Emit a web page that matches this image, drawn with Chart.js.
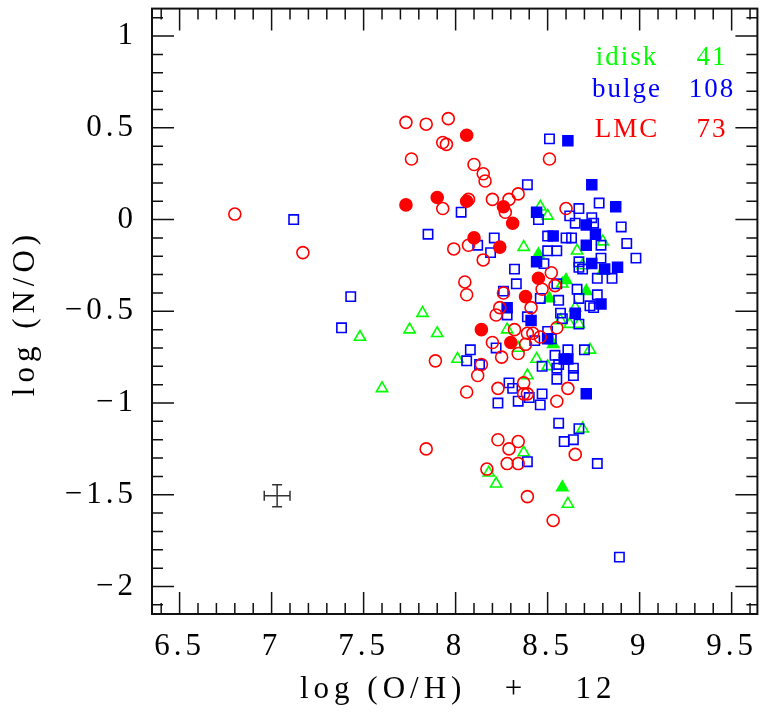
<!DOCTYPE html>
<html>
<head>
<meta charset="utf-8">
<script src="https://cdn.jsdelivr.net/npm/chart.js@4.4.1/dist/chart.umd.min.js"></script>
<style>
  body { margin: 0; background: #fff; }
  canvas { display: block; }
</style>
</head>
<body>
<canvas id="plot" width="766" height="718"></canvas>
<script>
// LMC (red circles)
var lmcOpenX = [6.80, 7.17, 7.73, 7.84, 7.96, 7.93, 7.95, 7.76, 8.10, 8.15, 8.16, 7.93, 8.07, 8.20, 8.27, 8.29, 8.34, 8.51, 8.60,
  7.99, 8.07, 8.15, 8.05, 8.06, 8.26, 8.24, 8.22, 8.52, 8.47, 8.54, 8.32, 8.39, 8.42, 8.46, 8.55, 8.20, 8.38, 8.25, 8.34,
  7.89, 8.14, 8.12, 8.06, 8.23, 8.37, 8.39, 8.37, 8.55, 8.61, 7.84, 8.23, 8.29, 8.34, 8.28, 8.34, 8.17, 8.39, 8.53, 8.65, 8.41];
var lmcOpenY = [0.03, -0.18, 0.53, 0.52, 0.55, 0.42, 0.41, 0.33, 0.30, 0.25, 0.21, 0.06, 0.11, 0.11, 0.04, 0.11, 0.14, 0.33, 0.06,
  -0.16, -0.14, -0.22, -0.34, -0.41, -0.40, -0.48, -0.52, -0.29, -0.38, -0.36, -0.60, -0.62, -0.62, -0.64, -0.59, -0.67, -0.68, -0.75, -0.73,
  -0.77, -0.79, -0.85, -0.94, -0.92, -0.89, -0.95, -0.95, -0.99, -0.92, -1.25, -1.20, -1.25, -1.21, -1.33, -1.33, -1.36, -1.51, -1.64, -1.28, -0.48];
var lmcFillX = [8.06, 7.73, 7.90, 8.06, 8.26, 8.31, 8.10, 8.24, 8.45, 8.38, 8.14, 8.30];
var lmcFillY = [0.46, 0.08, 0.12, 0.10, 0.07, -0.02, -0.10, -0.15, -0.32, -0.42, -0.60, -0.67];

// bulge (blue squares)
var bulgeOpenX = [7.12, 7.43, 7.38, 7.85, 8.03, 8.51, 8.39, 8.45, 8.21, 8.50, 8.67, 8.78, 8.62, 8.65, 8.74, 8.75, 8.90, 8.60, 8.63, 8.93,
  8.12, 8.19, 8.55, 8.50, 8.32, 8.48, 8.33, 8.26, 8.46, 8.28, 8.39, 8.57, 8.50, 8.43, 8.22, 8.08, 8.06, 8.13, 8.47, 8.54, 8.55, 8.52,
  8.79, 8.67, 8.79, 8.98, 8.67, 8.69, 8.77, 8.85, 8.66, 8.77, 8.67, 8.56, 8.75, 8.73, 8.58, 8.67, 8.61, 8.70,
  8.29, 8.31, 8.23, 8.34, 8.40, 8.47, 8.46, 8.56, 8.39, 8.55, 8.64, 8.56, 8.67, 8.59, 8.64, 8.77, 8.89, 8.55, 8.64];
var bulgeOpenY = [0.00, -0.42, -0.59, -0.08, 0.04, 0.44, 0.19, 0.00, -0.10, -0.09, 0.06, 0.09, 0.02, -0.02, 0.01, -0.02, -0.04, -0.10, -0.10, -0.13,
  -0.14, -0.18, -0.17, -0.17, -0.27, -0.24, -0.35, -0.39, -0.43, -0.52, -0.53, -0.51, -0.61, -0.66, -0.70, -0.71, -0.77, -0.79, -0.80, -0.74, -0.81, -0.65,
  -0.14, -0.23, -0.21, -0.21, -0.26, -0.27, -0.32, -0.32, -0.38, -0.41, -0.43, -0.44, -0.48, -0.47, -0.54, -0.57, -0.71, -0.71,
  -0.89, -0.92, -1.00, -0.99, -0.97, -0.95, -1.01, -1.11, -1.32, -0.87, -0.85, -0.79, -1.14, -1.21, -1.20, -1.33, -1.84, -0.35, -0.81];
var bulgeFillX = [8.61, 8.74, 8.87, 8.44, 8.71, 8.76, 8.53, 8.71, 8.44, 8.74, 8.81, 8.88, 8.65, 8.79, 8.28, 8.41, 8.50, 8.61, 8.59, 8.71];
var bulgeFillY = [0.43, 0.19, 0.07, 0.04, -0.03, -0.08, -0.09, -0.14, -0.23, -0.24, -0.27, -0.26, -0.51, -0.46, -0.48, -0.55, -0.65, -0.76, -0.76, -0.95];

// idisk (green triangles)
var idiskOpenX = [7.48, 7.60, 7.75, 7.82, 7.90, 8.01, 8.37, 8.46, 8.50, 8.44, 8.50, 8.66, 8.80, 8.69, 8.80, 8.58, 8.65, 8.57, 8.62, 8.67,
  8.73, 8.39, 8.37, 8.18, 8.22, 8.69, 8.61, 8.28, 8.34];
var idiskOpenY = [-0.64, -0.92, -0.60, -0.51, -0.62, -0.76, -0.15, 0.07, 0.02, -0.76, -0.80, -0.17, -0.12, -0.25, -0.28, -0.35, -0.48, -0.55, -0.57, -0.57,
  -0.71, -0.85, -1.27, -1.38, -1.44, -1.14, -1.55, -0.60, -0.70];
var idiskFillX = [8.51, 8.71, 8.53, 8.58, 8.60, 8.45];
var idiskFillY = [-0.43, -0.39, -0.68, -1.46, -0.33, -0.19];

// legend and error bar
var groupNames = ['idisk', 'bulge', 'LMC'];
var groupCounts = [41, 108, 73];
var groupColors = ['#00ff00', '#0000ff', '#ff0000'];
var errX = 7.03, errY = -1.505, errDX = 0.07, errDY = 0.06;

function pts(xs, ys) {
  var out = [];
  for (var i = 0; i < xs.length; i++) out.push({x: xs[i], y: ys[i]});
  return out;
}

function set(label, xs, ys, style, color, filled, r) {
  return {
    label: label,
    data: pts(xs, ys),
    pointStyle: style,
    pointRadius: r,
    pointHoverRadius: r,
    pointBorderWidth: 1.6,
    borderColor: color,
    backgroundColor: filled ? color : 'rgba(0,0,0,0)'
  };
}

var serif = "'Liberation Serif', 'Times New Roman', serif";

var framePlugin = {
  id: 'frame',
  beforeDraw: function(chart) { chart.ctx.letterSpacing = '4px'; },
  beforeDatasetsDraw: function(chart) { chart.ctx.letterSpacing = '0px'; },
  afterDraw: function(chart) {
    var ctx = chart.ctx, a = chart.chartArea;
    var xs = chart.scales.x, ys = chart.scales.y;
    ctx.save();
    ctx.strokeStyle = '#111';
    ctx.lineWidth = 1.5;
    ctx.beginPath();
    var i, p, len;
    for (i = Math.ceil(xs.min * 10); i <= Math.floor(xs.max * 10); i++) {
      p = xs.getPixelForValue(i / 10);
      len = (i % 5 === 0) ? 22 : 11;
      ctx.moveTo(p, a.bottom); ctx.lineTo(p, a.bottom - len);
      ctx.moveTo(p, a.top); ctx.lineTo(p, a.top + len);
    }
    for (i = Math.ceil(ys.min * 10); i <= Math.floor(ys.max * 10); i++) {
      p = ys.getPixelForValue(i / 10);
      len = (i % 5 === 0) ? 22 : 11;
      ctx.moveTo(a.left, p); ctx.lineTo(a.left + len, p);
      ctx.moveTo(a.right, p); ctx.lineTo(a.right - len, p);
    }
    ctx.stroke();
    ctx.lineWidth = 2;
    ctx.strokeRect(a.left, a.top, a.right - a.left, a.bottom - a.top);

    // error bar
    var cx = xs.getPixelForValue(errX), cy = ys.getPixelForValue(errY);
    var x0 = xs.getPixelForValue(errX - errDX), x1 = xs.getPixelForValue(errX + errDX);
    var y0 = ys.getPixelForValue(errY + errDY), y1 = ys.getPixelForValue(errY - errDY);
    ctx.strokeStyle = '#333';
    ctx.lineWidth = 1.5;
    ctx.beginPath();
    ctx.moveTo(x0, cy); ctx.lineTo(x1, cy);
    ctx.moveTo(cx, y0); ctx.lineTo(cx, y1);
    ctx.moveTo(x0, cy - 5); ctx.lineTo(x0, cy + 5);
    ctx.moveTo(x1, cy - 5); ctx.lineTo(x1, cy + 5);
    ctx.moveTo(cx - 5, y0); ctx.lineTo(cx + 5, y0);
    ctx.moveTo(cx - 5, y1); ctx.lineTo(cx + 5, y1);
    ctx.stroke();

    // legend
    var base = [65, 97, 137];
    ctx.font = '27px ' + serif;
    ctx.letterSpacing = '2px';
    ctx.textAlign = 'center';
    ctx.textBaseline = 'alphabetic';
    for (i = 0; i < groupNames.length; i++) {
      ctx.fillStyle = groupColors[i];
      ctx.fillText(groupNames[i], 627, base[i]);
      ctx.fillText(String(groupCounts[i]), 712, base[i]);
    }

    // axis titles
    ctx.fillStyle = '#000';
    ctx.font = '31px ' + serif;
    ctx.letterSpacing = '5px';
    ctx.textAlign = 'left';
    ctx.fillText('log (O/H)', 300, 698);
    ctx.textAlign = 'center';
    ctx.fillText('+', 516, 698);
    ctx.fillText('12', 596, 698);
    ctx.translate(34, 313);
    ctx.rotate(-Math.PI / 2);
    ctx.fillText('log (N/O)', 0, 0);
    ctx.restore();
  }
};

var tickFont = { family: serif, size: 31 };

new Chart(document.getElementById('plot'), {
  type: 'scatter',
  data: {
    datasets: [
      set('LMC', lmcFillX, lmcFillY, 'circle', '#ff0000', true, 6),
      set('LMC', lmcOpenX, lmcOpenY, 'circle', '#ff0000', false, 6),
      set('bulge', bulgeFillX, bulgeFillY, 'rect', '#0000ff', true, 7),
      set('bulge', bulgeOpenX, bulgeOpenY, 'rect', '#0000ff', false, 6.6),
      set('idisk', idiskFillX, idiskFillY, 'triangle', '#00ff00', true, 6.5),
      set('idisk', idiskOpenX, idiskOpenY, 'triangle', '#00ff00', false, 6.5)
    ]
  },
  options: {
    responsive: false,
    animation: false,
    events: [],
    layout: { padding: { top: 7, right: 8, left: 0, bottom: 0 } },
    plugins: { legend: { display: false }, tooltip: { enabled: false } },
    scales: {
      x: {
        type: 'linear', min: 6.35, max: 9.64,
        grid: { display: false, drawTicks: false },
        border: { display: false },
        ticks: {
          stepSize: 0.5, includeBounds: false, padding: 14,
          color: '#000', font: tickFont,
          callback: function(v) { return String(v); }
        },
        afterFit: function(s) {
          s.height = 104;
          s.paddingLeft = 0; s.paddingRight = 0;
        }
      },
      y: {
        type: 'linear', min: -2.15, max: 1.15,
        grid: { display: false, drawTicks: false },
        border: { display: false },
        ticks: {
          stepSize: 0.5, includeBounds: false, padding: 15,
          color: '#000', font: tickFont,
          callback: function(v) { return String(v).replace('-', '\u2212'); }
        },
        afterFit: function(s) {
          s.width = 152;
          s.paddingTop = 0; s.paddingBottom = 0;
        }
      }
    }
  },
  plugins: [framePlugin]
});
</script>
</body>
</html>
